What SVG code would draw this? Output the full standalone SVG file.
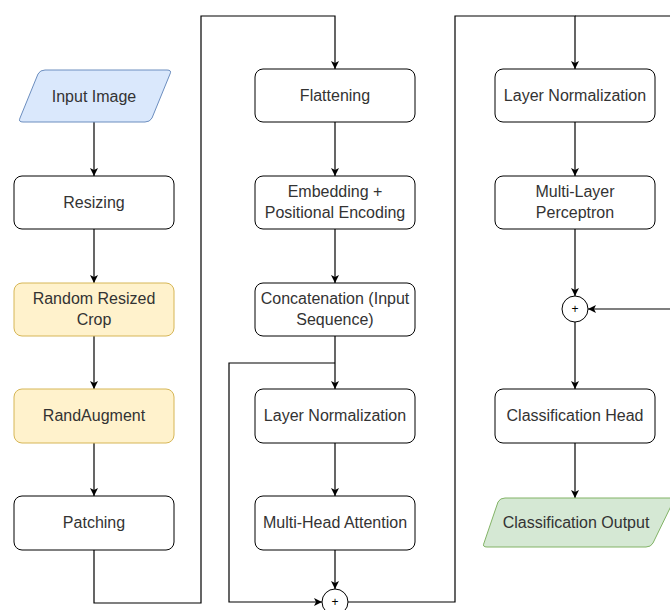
<svg xmlns="http://www.w3.org/2000/svg" width="670" height="610" viewBox="0 0 670 610">
<defs>
<marker id="arr" markerWidth="10" markerHeight="10" refX="9" refY="5" orient="auto" markerUnits="userSpaceOnUse">
<path d="M1,1 L9,5 L1,9 L3,5 Z" fill="#000"/>
</marker>
<style>
.box{fill:#fff;stroke:#000;stroke-width:1}
.yel{fill:#fff2cc;stroke:#d6b656;stroke-width:1}
.blue{fill:#dae8fc;stroke:#6c8ebf;stroke-width:1}
.green{fill:#d5e8d4;stroke:#82b366;stroke-width:1}
.circ{fill:#fff;stroke:#000;stroke-width:1}
text{font-family:"Liberation Sans",Arial,sans-serif;font-size:16px;fill:#333;text-anchor:middle}
.plus{font-size:12px;fill:#000}
.edge{fill:none;stroke:#000;stroke-width:1.2;marker-end:url(#arr)}
.line{fill:none;stroke:#000;stroke-width:1.2}
</style>
</defs>

<g id="connectors">
<path class="edge" d="M94,122 V176"/>
<path class="edge" d="M94,229 V283"/>
<path class="edge" d="M94,336 V389"/>
<path class="edge" d="M94,443 V496"/>
<path class="edge" d="M94,550 V603 H201 V16 H335 V69"/>
<path class="edge" d="M335,122 V176"/>
<path class="edge" d="M335,229 V283"/>
<path class="edge" d="M335,336 V389"/>
<path class="edge" d="M335,363 H229 V602 H322"/>
<path class="edge" d="M335,443 V496"/>
<path class="edge" d="M335,550 V589"/>
<path class="edge" d="M348,602 H455 V16 H575 V69"/>
<path class="line" d="M575,16 H700"/>
<path class="edge" d="M700,309 H588"/>
<path class="edge" d="M575,122 V176"/>
<path class="edge" d="M575,229 V296"/>
<path class="edge" d="M575,322 V389"/>
<path class="edge" d="M575,443 V498"/>
</g>

<g id="input-image">
<path class="blue" d="M45,70 H167 Q172,70 170,74 L152,118 Q150,122 145,122 H23 Q18,122 20,118 L38,74 Q40,70 45,70 Z"/>
<text x="94" y="102">Input Image</text>
</g>
<g id="resizing">
<rect class="box" x="14" y="176" width="160" height="53" rx="8"/>
<text x="94" y="208">Resizing</text>
</g>
<g id="random-resized-crop">
<rect class="yel" x="14" y="283" width="160" height="53" rx="8"/>
<text x="94" y="304">Random Resized</text>
<text x="94" y="325">Crop</text>
</g>
<g id="randaugment">
<rect class="yel" x="14" y="389" width="160" height="54" rx="8"/>
<text x="94" y="421">RandAugment</text>
</g>
<g id="patching">
<rect class="box" x="14" y="496" width="160" height="54" rx="8"/>
<text x="94" y="528">Patching</text>
</g>

<g id="flattening">
<rect class="box" x="255" y="69" width="160" height="53" rx="8"/>
<text x="335" y="101">Flattening</text>
</g>
<g id="embedding">
<rect class="box" x="255" y="176" width="160" height="53" rx="8"/>
<text x="335" y="197">Embedding +</text>
<text x="335" y="218">Positional Encoding</text>
</g>
<g id="concatenation">
<rect class="box" x="255" y="283" width="160" height="53" rx="8"/>
<text x="335" y="304">Concatenation (Input</text>
<text x="335" y="325">Sequence)</text>
</g>
<g id="layer-norm-1">
<rect class="box" x="255" y="389" width="160" height="54" rx="8"/>
<text x="335" y="421">Layer Normalization</text>
</g>
<g id="multi-head-attention">
<rect class="box" x="255" y="496" width="160" height="54" rx="8"/>
<text x="335" y="528">Multi-Head Attention</text>
</g>
<g id="add-1">
<circle class="circ" cx="335" cy="602" r="13"/>
<text class="plus" x="335" y="606">+</text>
</g>

<g id="layer-norm-2">
<rect class="box" x="495" y="69" width="160" height="53" rx="8"/>
<text x="575" y="101">Layer Normalization</text>
</g>
<g id="mlp">
<rect class="box" x="495" y="176" width="160" height="53" rx="8"/>
<text x="575" y="197">Multi-Layer</text>
<text x="575" y="218">Perceptron</text>
</g>
<g id="add-2">
<circle class="circ" cx="575" cy="309" r="13"/>
<text class="plus" x="575" y="313">+</text>
</g>
<g id="classification-head">
<rect class="box" x="495" y="389" width="160" height="54" rx="8"/>
<text x="575" y="421">Classification Head</text>
</g>
<g id="classification-output">
<path class="green" d="M505,498 H670 Q675,498 673,502 L653,543 Q651,547 646,547 H487 Q482,547 484,543 L498,502 Q500,498 505,498 Z"/>
<text x="576" y="528">Classification Output</text>
</g>
</svg>
